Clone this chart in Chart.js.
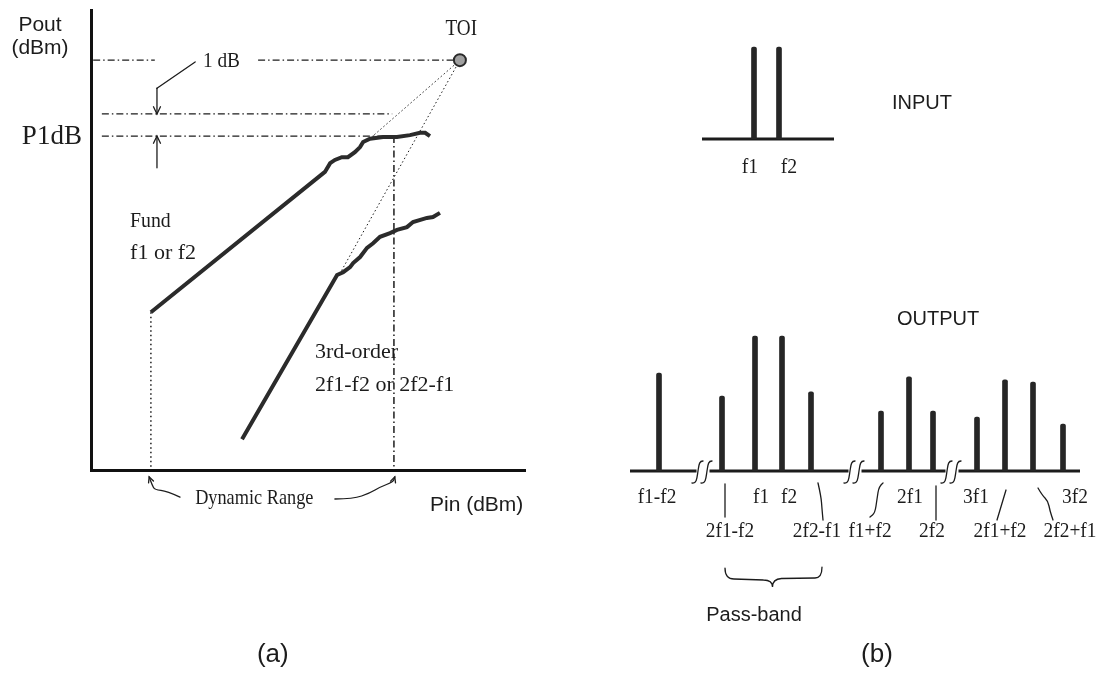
<!DOCTYPE html>
<html>
<head>
<meta charset="utf-8">
<script src="https://cdn.jsdelivr.net/npm/chart.js@4.4.1/dist/chart.umd.min.js"></script>
<style>
  html, body { margin: 0; padding: 0; background: #fff; }
  #wrap { position: relative; width: 1104px; height: 676px; overflow: hidden; }
  canvas { position: absolute; left: 0; top: 0; }
  #outputChart, #inputChart { left: 560px; }
</style>
</head>
<body>
<div id="wrap">
  <canvas id="powerChart" width="560" height="676"></canvas>
  <canvas id="outputChart" width="544" height="676"></canvas>
  <canvas id="inputChart" width="544" height="200"></canvas>
</div>
<script>
// ---- (a) Pout vs Pin (arbitrary dB units, 0..100 on both axes) ----
const fundPin  = [13.8, 53.9, 55.1, 56.2, 57.8, 59.2, 60.8, 62.0, 62.7, 64.3, 67.3, 70.5, 73.5, 75.8, 77.0, 78.1];
const fundPout = [34.3, 64.8, 66.7, 67.4, 68.0, 68.0, 69.1, 70.2, 71.3, 72.0, 72.4, 72.4, 72.8, 73.3, 73.3, 72.6];
const imdPin   = [34.8, 56.7, 58.1, 59.7, 60.4, 62.0, 63.6, 65.0, 66.6, 68.9, 70.5, 72.8, 74.2, 77.4, 78.8, 80.4];
const imdPout  = [6.7, 42.4, 43.0, 44.1, 45.0, 46.3, 48.3, 49.3, 50.7, 51.5, 52.2, 52.8, 53.9, 54.8, 55.0, 55.9];
const toiPoint = [85.0, 89.1];          // Pin, Pout
const p1dbLevel = 72.6;
const p1dbPlus1 = 77.4;
const p1dbPin = 69.8;
const fundStart = [13.8, 34.3];
const fundKnee = [64.7, 72.4];
const imdKnee = [57.4, 42.8];

// ---- (b) spectra (x: frequency slots, y: level) ----
const inLabels = ['f1', 'f2'];
const inFreq   = [26.8, 31.8];
const inLevel  = [61.3, 61.3];
const inSpan   = [16.4, 42.8];

const outLabels = ['f1-f2', '2f1-f2', 'f1', 'f2', '2f2-f1', 'f1+f2', '2f1', '2f2', '3f1', '2f1+f2', '2f2+f1', '3f2'];
const outFreq   = [7.8, 20.4, 27.0, 32.4, 38.2, 52.2, 57.8, 62.6, 71.4, 77.0, 82.6, 88.6];
const outLevel  = [65.3, 50.0, 90.0, 90.0, 52.7, 40.0, 62.7, 40.0, 36.0, 60.7, 59.3, 31.3];
const outSpan   = [2, 92];
const axisBreaks = [16.6, 47.0, 66.4];
const passBand  = [21.0, 40.4];

const SERIF = '"Liberation Serif", "DejaVu Serif", serif';
const SANS = '"Liberation Sans", Arial, sans-serif';
const INK = '#1c1c1c';

const pts = (xs, ys) => xs.map((v, i) => ({x: v, y: ys[i]}));
const seg = (a, b) => [{x: a[0], y: a[1]}, {x: b[0], y: b[1]}];

function label(ctx, s, x, y, size, font, align, sx) {
    ctx.save();
    ctx.font = size + 'px ' + font;
    ctx.textAlign = align || 'left';
    ctx.textBaseline = 'middle';
    ctx.fillStyle = INK;
    ctx.translate(x, y);
    ctx.scale(sx || 1, 1);
    ctx.fillText(s, 0, 0);
    ctx.restore();
}

function smoothPath(ctx, p) {
    ctx.beginPath();
    ctx.moveTo(p[0][0], p[0][1]);
    for (let i = 1; i < p.length - 1; i++) {
        const mx = (p[i][0] + p[i + 1][0]) / 2, my = (p[i][1] + p[i + 1][1]) / 2;
        ctx.quadraticCurveTo(p[i][0], p[i][1], mx, my);
    }
    ctx.lineTo(p[p.length - 1][0], p[p.length - 1][1]);
    ctx.stroke();
}

function arrowHead(ctx, from, tip, len) {
    const a = Math.atan2(tip[1] - from[1], tip[0] - from[0]);
    ctx.beginPath();
    ctx.moveTo(tip[0] - len * Math.cos(a - 0.45), tip[1] - len * Math.sin(a - 0.45));
    ctx.lineTo(tip[0], tip[1]);
    ctx.lineTo(tip[0] - len * Math.cos(a + 0.45), tip[1] - len * Math.sin(a + 0.45));
    ctx.stroke();
}

// Annotations for (a)
const powerNotes = {
    id: 'powerNotes',
    afterDatasetsDraw(chart) {
        const {ctx, scales: {x, y}} = chart;
        const P = (a, b) => [x.getPixelForValue(a), y.getPixelForValue(b)];
        ctx.save();
        ctx.strokeStyle = INK;
        ctx.lineWidth = 1.3;
        ctx.lineCap = 'round';

        let p = P(-11.75, 96.7); label(ctx, 'Pout', p[0], p[1], 21, SANS, 'center');
        p = P(-11.75, 91.7); label(ctx, '(dBm)', p[0], p[1], 21, SANS, 'center');
        p = P(-2.1, 72.4); label(ctx, 'P1dB', p[0], p[1], 27, SERIF, 'right');
        p = P(85.3, 95.9); label(ctx, 'TOI', p[0], p[1], 24, SERIF, 'center', 0.8);
        p = P(25.8, 88.7); label(ctx, '1 dB', p[0], p[1], 21, SERIF, 'left', 0.92);
        p = P(9.0, 54.1); label(ctx, 'Fund', p[0], p[1], 22, SERIF, 'left', 0.9);
        p = P(9.0, 47.2); label(ctx, 'f1 or f2', p[0], p[1], 22, SERIF);
        p = P(51.6, 25.7); label(ctx, '3rd-order', p[0], p[1], 22, SERIF);
        p = P(51.6, 18.5); label(ctx, '2f1-f2 or 2f2-f1', p[0], p[1], 22, SERIF);
        p = P(24.0, -6.1); label(ctx, 'Dynamic Range', p[0], p[1], 21, SERIF, 'left', 0.87);
        p = P(78.1, -7.6); label(ctx, 'Pin (dBm)', p[0], p[1], 21, SANS);
        p = P(41.9, -40.2); label(ctx, '(a)', p[0], p[1], 26, SANS, 'center');

        // 1 dB arrows
        let a = [P(24.0, 88.7), P(15.2, 83.0), P(15.2, 77.4)];
        smoothPath(ctx, a.slice(0, 2)); smoothPath(ctx, a.slice(1));
        arrowHead(ctx, a[1], a[2], 8);
        a = [P(15.2, 65.7), P(15.2, 72.6)];
        smoothPath(ctx, a); arrowHead(ctx, a[0], a[1], 8);

        // dynamic range squiggles
        a = [P(20.5, -5.9), P(17.5, -4.6), P(14.7, -4.3), P(14.1, -3.3), P(13.4, -1.5)];
        smoothPath(ctx, a); arrowHead(ctx, a[3], a[4], 6);
        a = [P(56.2, -6.3), P(60.4, -6.3), P(64.3, -5.0), P(66.6, -3.7), P(69.6, -2.6), P(70.0, -1.5)];
        smoothPath(ctx, a); arrowHead(ctx, a[4], a[5], 6);
        ctx.restore();
    }
};

const dashDot = [7, 3, 1.5, 3];
const guide = (data, dash, w) => ({
    data, showLine: true, pointRadius: 0, fill: false,
    borderColor: INK, borderWidth: w || 1.2, borderDash: dash
});

new Chart(document.getElementById('powerChart'), {
    type: 'scatter',
    data: {
        datasets: [
            {data: [{x: toiPoint[0], y: toiPoint[1]}], pointRadius: 6, pointBackgroundColor: '#a0a0a0',
             pointBorderColor: '#2a2a2a', pointBorderWidth: 2},
            {data: pts(fundPin, fundPout), showLine: true, pointRadius: 0, borderColor: '#2b2b2b', borderWidth: 4},
            {data: pts(imdPin, imdPout), showLine: true, pointRadius: 0, borderColor: '#2b2b2b', borderWidth: 4},
            guide(seg([0.5, toiPoint[1]], [14.7, toiPoint[1]]), dashDot),
            guide(seg([38.5, toiPoint[1]], toiPoint), dashDot),
            guide(seg([2.5, p1dbPlus1], [69.4, p1dbPlus1]), dashDot),
            guide(seg([2.5, p1dbLevel], [70.0, p1dbLevel]), dashDot),
            guide(seg([p1dbPin, p1dbLevel], [p1dbPin, 0]), dashDot, 1.5),
            guide(seg(fundStart, [fundStart[0], 0]), [1.5, 3, 1.5, 3], 1.5),
            guide(seg(toiPoint, fundKnee), [1.5, 2.5], 1),
            guide(seg(toiPoint, imdKnee), [1.5, 2.5], 1)
        ]
    },
    options: {
        responsive: false,
        animation: false,
        layout: {padding: {left: 91, right: 35, top: 10, bottom: 206}},
        plugins: {legend: {display: false}, tooltip: {enabled: false}},
        scales: {
            x: {type: 'linear', min: 0, max: 100,
                grid: {display: false, drawTicks: false}, ticks: {display: false},
                border: {display: true, color: '#111', width: 3}},
            y: {type: 'linear', min: 0, max: 100,
                grid: {display: false, drawTicks: false}, ticks: {display: false},
                border: {display: true, color: '#111', width: 3}}
        }
    },
    plugins: [powerNotes]
});

// ---- (b) spectra ----
function baseline(ctx, x, y, from, to) {
    ctx.save();
    ctx.strokeStyle = INK;
    ctx.lineWidth = 3;
    ctx.beginPath();
    ctx.moveTo(x.getPixelForValue(from), y.getPixelForValue(0));
    ctx.lineTo(x.getPixelForValue(to), y.getPixelForValue(0));
    ctx.stroke();
    ctx.restore();
}

function breakMark(ctx, m, y0) {
    ctx.beginPath();
    ctx.moveTo(m - 7, y0 + 12);
    ctx.bezierCurveTo(m - 2, y0 + 13, m - 2, y0 + 6, m - 1, y0);
    ctx.bezierCurveTo(m, y0 - 6, m, y0 - 10, m + 4, y0 - 10);
    ctx.stroke();
}

const inputNotes = {
    id: 'inputNotes',
    beforeDatasetsDraw(chart) {
        const {ctx, scales: {x, y}} = chart;
        baseline(ctx, x, y, inSpan[0], inSpan[1]);
    },
    afterDatasetsDraw(chart) {
        const {ctx, scales: {x, y}} = chart;
        const y0 = y.getPixelForValue(0);
        const dx = [-4, 10];
        inFreq.forEach((f, i) => label(ctx, inLabels[i], x.getPixelForValue(f) + dx[i], y0 + 28, 22, SERIF, 'center', 0.9));
        label(ctx, 'INPUT', x.getPixelForValue(54.4), y.getPixelForValue(24), 20, SANS);
    }
};

// label placement per spike: row and horizontal nudge (px)
const outLabelRow = [1, 2, 1, 1, 2, 2, 1, 2, 1, 2, 2, 1];
const outLabelDx  = [-2, 8, 6, 7, 6, -11, 1, -1, -1, -5, 37, 12];
const outLeaders = {
    '2f1-f2': [[3, 13], [3, 46]],
    '2f2-f1': [[7, 12], [10, 25], [11, 38], [12, 49]],
    'f1+f2': [[2, 12], [-2, 15], [-4, 28], [-6, 42], [-11, 46]],
    '2f2': [[3, 15], [3, 49]],
    '2f1+f2': [[1, 19], [-8, 49]],
    '2f2+f1': [[5, 17], [9, 24], [15, 30], [17, 40], [20, 49]]
};

const outputNotes = {
    id: 'outputNotes',
    beforeDatasetsDraw(chart) {
        const {ctx, scales: {x, y}} = chart;
        const edges = [outSpan[0]];
        axisBreaks.forEach(b => edges.push(b - 1.3, b + 1.3));
        edges.push(outSpan[1]);
        for (let i = 0; i < edges.length; i += 2) baseline(ctx, x, y, edges[i], edges[i + 1]);
    },
    afterDatasetsDraw(chart) {
        const {ctx, scales: {x, y}} = chart;
        const y0 = y.getPixelForValue(0);
        ctx.save();
        ctx.strokeStyle = INK;
        ctx.lineWidth = 1.3;
        ctx.lineCap = 'round';
        axisBreaks.forEach(b => {
            const c = x.getPixelForValue(b);
            breakMark(ctx, c - 4, y0);
            breakMark(ctx, c + 5, y0);
        });
        outFreq.forEach((f, i) => {
            const sx = x.getPixelForValue(f);
            const ly = outLabelRow[i] === 1 ? y0 + 26 : y0 + 60;
            label(ctx, outLabels[i], sx + outLabelDx[i], ly, 22, SERIF, 'center', 0.88);
            const lead = outLeaders[outLabels[i]];
            if (lead) smoothPath(ctx, lead.map(q => [sx + q[0], y0 + q[1]]));
        });
        // pass-band brace
        const l = x.getPixelForValue(passBand[0]), r = x.getPixelForValue(passBand[1]);
        const m = (l + r) / 2 - 1;
        const top = y.getPixelForValue(-64.7), mid = y.getPixelForValue(-72.0), tip = y.getPixelForValue(-77.3);
        ctx.beginPath();
        ctx.moveTo(l, top);
        ctx.quadraticCurveTo(l, mid, l + 9, mid);
        ctx.lineTo(m - 9, mid + 1);
        ctx.quadraticCurveTo(m, mid + 1, m, tip);
        ctx.quadraticCurveTo(m, mid, m + 9, mid - 0.5);
        ctx.lineTo(r - 7, mid - 1);
        ctx.quadraticCurveTo(r, mid - 1, r, top - 1);
        ctx.stroke();
        ctx.restore();
        label(ctx, 'Pass-band', x.getPixelForValue(26.8), y.getPixelForValue(-96), 20, SANS, 'center');
        label(ctx, 'OUTPUT', x.getPixelForValue(55.4), y.getPixelForValue(100.7), 20, SANS);
        label(ctx, '(b)', x.getPixelForValue(51.4), y.getPixelForValue(-122.7), 26, SANS, 'center');
    }
};

function spectrum(canvasId, freq, level, yMax, pad, plugin) {
    return new Chart(document.getElementById(canvasId), {
        type: 'bar',
        data: {
            datasets: [{
                data: freq.map((f, i) => ({x: f, y: level[i]})),
                backgroundColor: '#262626',
                barThickness: 5,
                borderRadius: 2,
                borderSkipped: 'bottom'
            }]
        },
        options: {
            responsive: false,
            animation: false,
            layout: {padding: pad},
            plugins: {legend: {display: false}, tooltip: {enabled: false}},
            scales: {
                x: {type: 'linear', min: 0, max: 94, offset: false, display: false},
                y: {min: 0, max: yMax, display: false}
            }
        },
        plugins: [plugin]
    });
}

spectrum('outputChart', outFreq, outLevel, 100, {left: 60, right: 14, top: 321, bottom: 205}, outputNotes);
spectrum('inputChart', inFreq, inLevel, 70, {left: 60, right: 14, top: 34, bottom: 61}, inputNotes);
</script>
</body>
</html>
